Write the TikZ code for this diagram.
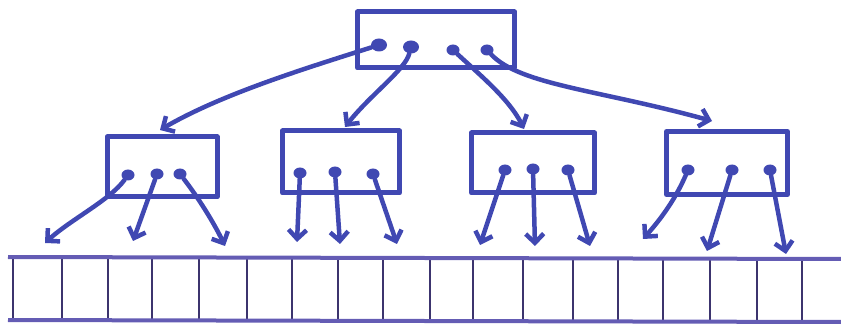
\documentclass[tikz,border=0pt]{standalone}
\usetikzlibrary{arrows.meta,shapes.geometric}
\definecolor{ink}{RGB}{64,72,178}
\definecolor{arr}{RGB}{100,92,180}
\definecolor{divc}{RGB}{60,52,110}
\begin{document}
\begin{tikzpicture}[x=1pt,y=-1pt,
  box/.style={draw=ink,line width=5pt,line join=round,inner sep=0pt},
  ptr/.style={ellipse,fill=ink,inner sep=0pt,minimum width=13pt,minimum height=11pt},
  bigptr/.style={ptr,minimum width=16pt,minimum height=13pt},
  link/.style={draw=ink,line width=4.5pt,line cap=round,
    -{Straight Barb[length=9pt,width=18pt,line width=4.5pt]}},
  cell/.style={draw=divc,line width=2.5pt},
  rail/.style={draw=arr,line width=4pt}]
\useasboundingbox (0,0) rectangle (841,331);
% root
\node[box,minimum width=157pt,minimum height=56pt] (root) at (436,40) {};
\node[bigptr] (r1) at (379,45) {};
\node[bigptr] (r2) at (411,47) {};
\node[ptr] (r3) at (453,50) {};
\node[ptr] (r4) at (487,50) {};
% children
\node[box,minimum width=110pt,minimum height=60pt] (c1) at (162,167) {};
\node[box,minimum width=117pt,minimum height=62pt] (c2) at (341,162) {};
\node[box,minimum width=123pt,minimum height=60pt] (c3) at (533,163) {};
\node[box,minimum width=121pt,minimum height=63pt] (c4) at (727,163) {};
\node[ptr] (a1) at (128,175) {};
\node[ptr] (a2) at (157,174) {};
\node[ptr] (a3) at (180,174) {};
\node[ptr] (b1) at (300,173) {};
\node[ptr] (b2) at (335,172) {};
\node[ptr] (b3) at (373,174) {};
\node[ptr] (d1) at (505,170) {};
\node[ptr] (d2) at (533,169) {};
\node[ptr] (d3) at (568,170) {};
\node[ptr] (e1) at (688,170) {};
\node[ptr] (e2) at (732,170) {};
\node[ptr] (e3) at (770,170) {};
% targets on child tops
\coordinate (t1) at (160,130);
\coordinate (t2) at (345,127);
\coordinate (t3) at (524,129);
\coordinate (t4) at (712,121);
% root links
\draw[link] (r1) .. controls (300,70) and (220,95) .. (t1);
\draw[link] (r2) .. controls (405,70) and (370,95) .. (t2);
\draw[link] (r3) .. controls (480,75) and (510,100) .. (t3);
\draw[link] (r4) .. controls (520,85) and (600,90) .. (t4);
% leaf ends
\coordinate (l1) at (45,243);
\coordinate (l2) at (133,241);
\coordinate (l3) at (225,246);
\coordinate (l4) at (297,242);
\coordinate (l5) at (340,244);
\coordinate (l6) at (397,244);
\coordinate (l7) at (480,245);
\coordinate (l8) at (535,246);
\coordinate (l9) at (590,246);
\coordinate (l10) at (643,239);
\coordinate (l11) at (707,251);
\coordinate (l12) at (786,254);
\draw[link] (a1) .. controls (110,200) and (70,220) .. (l1);
\draw[link] (a2) -- (l2);
\draw[link] (a3) .. controls (200,200) and (215,225) .. (l3);
\draw[link] (b1) -- (l4);
\draw[link] (b2) -- (l5);
\draw[link] (b3) -- (l6);
\draw[link] (d1) -- (l7);
\draw[link] (d2) -- (l8);
\draw[link] (d3) -- (l9);
\draw[link] (e1) .. controls (675,200) and (660,220) .. (l10);
\draw[link] (e2) -- (l11);
\draw[link] (e3) -- (l12);
% array
\coordinate (TL) at (8,257);
\coordinate (TR) at (841,259);
\coordinate (BL) at (8,320);
\coordinate (BR) at (841,322);
\foreach \x in {13,62,108,152,199,247,292,338,383,430,473,523,573,618,663,710,757,802}
  \draw[cell] (\x,258) -- (\x,321);
\draw[rail] (TL) -- (TR);
\draw[rail] (BL) -- (BR);
\end{tikzpicture}
\end{document}
